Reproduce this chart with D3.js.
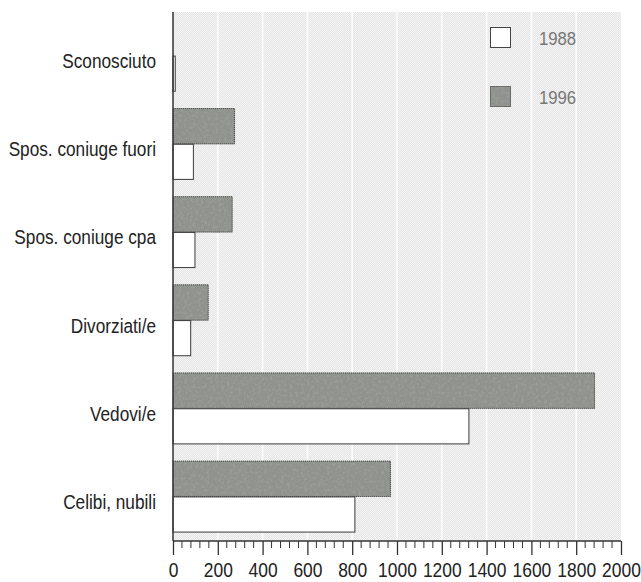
<!DOCTYPE html>
<html>
<head>
<meta charset="utf-8">
<script src="https://cdn.jsdelivr.net/npm/d3@7"></script>
<style>
  html, body { margin: 0; padding: 0; background: #fff; }
  svg { display: block; }
</style>
</head>
<body>
<svg id="chart" width="641" height="582"></svg>
<script>
// Marital status categories, top to bottom
const categories = ["Sconosciuto", "Spos. coniuge fuori", "Spos. coniuge cpa", "Divorziati/e", "Vedovi/e", "Celibi, nubili"];
const series = ["1996", "1988"];
const values1996 = [0, 277, 266, 159, 1884, 973];
const values1988 = [10, 91, 98, 79, 1321, 812];
const xTicks = [0, 200, 400, 600, 800, 1000, 1200, 1400, 1600, 1800, 2000];
const legendItems = ["1988", "1996"];

const FONT = "'Liberation Sans', Arial, sans-serif";

const svg = d3.select("#chart");
const margin = { top: 12, right: 20, bottom: 41, left: 173 };
const width = 641 - margin.left - margin.right;
const height = 582 - margin.top - margin.bottom;

const defs = svg.append("defs");

// Halftone-like background screen
const bgPat = defs.append("pattern").attr("id", "screen")
  .attr("width", 2).attr("height", 2).attr("patternUnits", "userSpaceOnUse");
bgPat.append("rect").attr("width", 2).attr("height", 2).attr("fill", "#f4f4f4");
bgPat.append("rect").attr("width", 1).attr("height", 1).attr("fill", "#e5e5e5");
bgPat.append("rect").attr("x", 1).attr("y", 1).attr("width", 1).attr("height", 1).attr("fill", "#e5e5e5");

// Grainy grey fill for the 1996 bars
const grain = defs.append("filter").attr("id", "grain")
  .attr("x", 0).attr("y", 0).attr("width", 1).attr("height", 1);
grain.append("feTurbulence").attr("type", "fractalNoise")
  .attr("baseFrequency", 0.35).attr("numOctaves", 2).attr("seed", 7).attr("result", "noise");
grain.append("feColorMatrix").attr("in", "noise").attr("type", "matrix")
  .attr("values", "0 0 0 0 0.33  0 0 0 0 0.35  0 0 0 0 0.32  0 0 0 -2.6 1.45")
  .attr("result", "speck");
grain.append("feComposite").attr("in", "speck").attr("in2", "SourceGraphic").attr("operator", "in").attr("result", "clip");
grain.append("feMerge").selectAll("feMergeNode").data(["SourceGraphic", "clip"]).join("feMergeNode")
  .attr("in", d => d);

const g = svg.append("g").attr("transform", `translate(${margin.left},${margin.top})`);

const x = d3.scaleLinear().domain([0, 2000]).range([0, width]);
const y = d3.scaleBand().domain(categories).range([0, height]).paddingInner(0.18).paddingOuter(0.09);
const ySub = d3.scaleBand().domain(series).range([0, y.bandwidth()]);

// Plot background
g.append("rect").attr("x", 0).attr("y", 0).attr("width", width).attr("height", height)
  .attr("fill", "url(#screen)");

// Vertical white gridlines
g.append("g").selectAll("line").data(xTicks.filter(t => t > 0 && t < 2000)).join("line")
  .attr("x1", d => x(d)).attr("x2", d => x(d)).attr("y1", 0).attr("y2", height)
  .attr("stroke", "#fcfcfc").attr("stroke-width", 1.6);

const rows = categories.map((c, i) => ({ cat: c, v1996: values1996[i], v1988: values1988[i] }));

// 1996 bars (grey, upper)
g.append("g").selectAll("rect").data(rows.filter(d => d.v1996 > 0)).join("rect")
  .attr("x", x(0)).attr("y", d => y(d.cat) + ySub("1996"))
  .attr("width", d => x(d.v1996) - x(0)).attr("height", ySub.bandwidth())
  .attr("fill", "#8f928d").attr("filter", "url(#grain)");
g.append("g").selectAll("rect").data(rows.filter(d => d.v1996 > 0)).join("rect")
  .attr("x", x(0)).attr("y", d => y(d.cat) + ySub("1996") + 0.5)
  .attr("width", d => x(d.v1996) - x(0) - 0.5).attr("height", ySub.bandwidth() - 1)
  .attr("fill", "none").attr("stroke", "#4a4c48").attr("stroke-width", 1)
  .attr("stroke-dasharray", "1,1");

// 1988 bars (white, lower)
g.append("g").selectAll("rect").data(rows).join("rect")
  .attr("x", x(0)).attr("y", d => y(d.cat) + ySub("1988"))
  .attr("width", d => x(d.v1988) - x(0)).attr("height", ySub.bandwidth() - 1)
  .attr("fill", "#ffffff").attr("stroke", "#3a3a3a").attr("stroke-width", 1);

// Left axis line
g.append("line").attr("x1", 0).attr("x2", 0).attr("y1", 0).attr("y2", height)
  .attr("stroke", "#333").attr("stroke-width", 1.5);

// Category labels, set in a condensed face by horizontal scaling
g.append("g").selectAll("g").data(categories).join("g")
  .attr("transform", d => `translate(-17,${y(d) + y.bandwidth() / 2 + 12}) scale(0.84,1)`)
  .append("text")
  .attr("text-anchor", "end")
  .attr("font-family", FONT)
  .attr("font-size", 20.5).attr("fill", "#222")
  .text(d => d);

// Bottom axis with minor ticks
const axisG = g.append("g").attr("transform", `translate(0,${height})`);
axisG.append("line").attr("x1", 0).attr("x2", width).attr("y1", 0).attr("y2", 0)
  .attr("stroke", "#333").attr("stroke-width", 1.5);
const minor = d3.range(0, 2001, 40).filter(v => v % 200 !== 0);
axisG.append("g").selectAll("line").data(minor).join("line")
  .attr("x1", d => x(d)).attr("x2", d => x(d)).attr("y1", 0).attr("y2", 7)
  .attr("stroke", "#333").attr("stroke-width", 1);
const axis = d3.axisBottom(x).tickValues(xTicks).tickSize(14).tickPadding(7).tickFormat(d3.format("d"));
const ax = axisG.append("g").call(axis);
ax.select(".domain").remove();
ax.selectAll(".tick line").attr("stroke", "#333").attr("stroke-width", 1.3);
ax.selectAll(".tick text")
  .attr("font-family", FONT)
  .attr("font-size", 21).attr("fill", "#222")
  .attr("transform", "scale(0.83,1)");

// Legend
const legend = svg.append("g").attr("transform", "translate(490,27)");
const li = legend.selectAll("g").data(legendItems).join("g")
  .attr("transform", (d, i) => `translate(0,${i * 59})`);
li.append("rect").attr("width", 21).attr("height", 21)
  .attr("fill", d => d === "1988" ? "#ffffff" : "#8f928d")
  .attr("filter", d => d === "1988" ? null : "url(#grain)");
li.append("rect").attr("x", 0.5).attr("y", 0.5).attr("width", 20).attr("height", 20)
  .attr("fill", "none").attr("stroke", "#444")
  .attr("stroke-dasharray", d => d === "1988" ? null : "1,1");
li.append("text")
  .attr("transform", "translate(49,18) scale(0.88,1)")
  .attr("font-family", FONT)
  .attr("font-size", 19).attr("fill", "#777")
  .text(d => d);
</script>
</body>
</html>
